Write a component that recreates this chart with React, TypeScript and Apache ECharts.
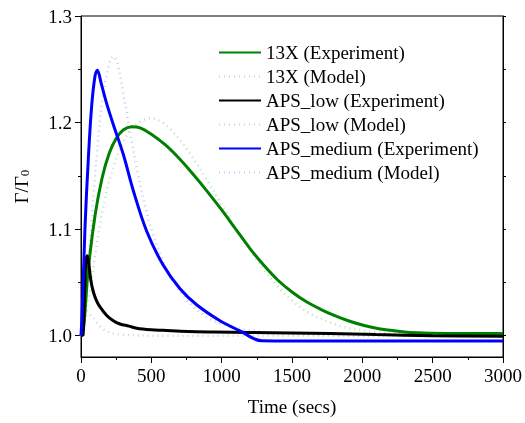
import React, { useEffect, useRef } from "react";
import * as echarts from "echarts";

const seriesNames = [
  "13X (Experiment)",
  "13X (Model)",
  "APS_low (Experiment)",
  "APS_low (Model)",
  "APS_medium (Experiment)",
  "APS_medium (Model)",
];

const t13xExp = [0, 20, 50, 100, 150, 200, 250, 300, 360, 420, 500, 600, 700, 800, 900, 1000, 1100, 1200, 1300, 1400, 1500, 1600, 1700, 1800, 1900, 2000, 2100, 2200, 2300, 2400, 2500, 2700, 3000];
const v13xExp = [1.0, 1.01, 1.06, 1.113, 1.148, 1.171, 1.185, 1.193, 1.196, 1.195, 1.189, 1.179, 1.166, 1.151, 1.135, 1.118, 1.1, 1.082, 1.066, 1.052, 1.041, 1.032, 1.025, 1.019, 1.014, 1.01, 1.007, 1.005, 1.0035, 1.0027, 1.0022, 1.002, 1.002];

const t13xModel = [0, 50, 100, 150, 200, 300, 400, 500, 600, 700, 800, 900, 1000, 1100, 1200, 1300, 1400, 1500, 1600, 1700, 1800, 1900, 2000, 2200, 2500, 3000];
const v13xModel = [1.0, 1.03, 1.075, 1.115, 1.145, 1.182, 1.199, 1.204, 1.198, 1.184, 1.166, 1.145, 1.123, 1.101, 1.081, 1.062, 1.046, 1.033, 1.023, 1.016, 1.011, 1.007, 1.005, 1.002, 1.001, 1.001];

const tLowExp = [0, 15, 25, 35, 45, 55, 70, 88, 110, 135, 183, 230, 277, 340, 396, 500, 585, 760, 940, 1200, 1500, 1770, 2100, 2500, 3000];
const vLowExp = [1.0, 1.001, 1.04, 1.07, 1.075, 1.068, 1.052, 1.041, 1.033, 1.027, 1.019, 1.014, 1.011, 1.009, 1.007, 1.0055, 1.005, 1.004, 1.0035, 1.003, 1.0025, 1.002, 1.001, 1.0, 0.9995];

const tLowModel = [0, 20, 50, 80, 120, 170, 230, 300, 500, 3000];
const vLowModel = [1.0, 1.012, 1.02, 1.018, 1.011, 1.005, 1.002, 1.001, 1.0, 1.0];

const tMedExp = [0, 8, 28, 52, 76, 100, 116, 145, 180, 230, 301, 372, 467, 585, 704, 822, 988, 1130, 1284, 1500, 3000];
const vMedExp = [1.0, 1.02, 1.1, 1.166, 1.216, 1.244, 1.249, 1.236, 1.219, 1.198, 1.17, 1.136, 1.098, 1.066, 1.044, 1.029, 1.014, 1.0045, 0.9952, 0.995, 0.995];

const tMedModel = [0, 30, 60, 100, 150, 200, 230, 260, 300, 350, 400, 450, 500, 600, 700, 800, 900, 1000, 1200, 1500, 2000, 3000];
const vMedModel = [1.0, 1.03, 1.08, 1.15, 1.22, 1.255, 1.262, 1.255, 1.228, 1.19, 1.155, 1.125, 1.1, 1.065, 1.042, 1.027, 1.017, 1.011, 1.005, 1.002, 1.0, 1.0];

const xTickLabels = [0, 500, 1000, 1500, 2000, 2500, 3000];
const yTickLabels = [1.0, 1.1, 1.2, 1.3];
const yMinorTicks = [1.05, 1.15, 1.25];

const FONT = "'Liberation Serif', 'Times New Roman', Times, serif";

function zip(t: number[], v: number[]) {
  return t.map((x, i) => [x, v[i]]);
}

export default function App() {
  const ref = useRef<HTMLDivElement>(null);
  useEffect(() => {
    if (!ref.current) return;
    const chart = echarts.init(ref.current, null, { renderer: "svg" });
    const expLine = (name: string, color: string, t: number[], v: number[]) => ({
      name,
      type: "line",
      data: zip(t, v),
      showSymbol: false,
      symbol: "none",
      smooth: 0.35,
      z: 5,
      lineStyle: { color, width: 3 },
      itemStyle: { color },
    });
    const modelLine = (name: string, color: string, t: number[], v: number[]) => ({
      name,
      type: "line",
      data: zip(t, v),
      showSymbol: false,
      symbol: "none",
      smooth: 0.35,
      z: 2,
      lineStyle: { color, width: 2.5, type: [1, 4] },
      itemStyle: { color },
    });
    chart.setOption({
      animation: false,
      textStyle: { fontFamily: FONT },
      grid: {
        left: 81,
        right: 22,
        top: 16,
        bottom: 66,
        show: true,
        borderColor: "#000",
        borderWidth: 1,
      },
      legend: {
        left: 213,
        top: 38,
        orient: "vertical",
        itemWidth: 42,
        itemHeight: 10,
        itemGap: 5,
        itemStyle: { opacity: 0, borderWidth: 0 },
        textStyle: { fontFamily: FONT, fontSize: 19, color: "#000", lineHeight: 19 },
        data: seriesNames,
      },
      xAxis: {
        type: "value",
        min: 0,
        max: 3000,
        interval: 500,
        name: "Time (secs)",
        nameLocation: "middle",
        nameGap: 40,
        nameTextStyle: { fontFamily: FONT, fontSize: 19, color: "#000" },
        axisLine: { show: true, lineStyle: { color: "#000", width: 1 } },
        axisTick: { show: true, inside: false, length: 6, lineStyle: { color: "#000" } },
        minorTick: { show: true, splitNumber: 2, length: 3, lineStyle: { color: "#000" } },
        axisLabel: {
          fontFamily: FONT,
          fontSize: 19,
          color: "#000",
          margin: 9,
          customValues: xTickLabels,
          formatter: (v: number) => String(v),
        },
        splitLine: { show: false },
      },
      yAxis: [
        {
          type: "value",
          min: 0.98,
          max: 1.3,
          name: "{a|Γ/Γ}{b|0}",
          nameLocation: "middle",
          nameGap: 50,
          nameRotate: 90,
          nameTextStyle: {
            fontFamily: FONT,
            fontSize: 19,
            color: "#000",
            rich: {
              a: { fontFamily: FONT, fontSize: 19, color: "#000", verticalAlign: "bottom", lineHeight: 24 },
              b: { fontFamily: FONT, fontSize: 13, color: "#000", verticalAlign: "bottom", lineHeight: 18 },
            },
          },
          axisLine: { show: true, lineStyle: { color: "#000", width: 1 } },
          axisTick: { show: true, inside: false, length: 6, customValues: yTickLabels, lineStyle: { color: "#000" } },
          axisLabel: {
            fontFamily: FONT,
            fontSize: 19,
            color: "#000",
            margin: 9,
            customValues: yTickLabels,
            formatter: (v: number) => v.toFixed(1),
          },
          splitLine: { show: false },
        },
        {
          type: "value",
          min: 0.98,
          max: 1.3,
          position: "left",
          axisLine: { show: false },
          axisTick: { show: true, inside: false, length: 3, customValues: yMinorTicks, lineStyle: { color: "#000" } },
          axisLabel: { show: false },
          splitLine: { show: false },
        },
        {
          type: "value",
          min: 0.98,
          max: 1.3,
          position: "right",
          axisLine: { show: true, lineStyle: { color: "#000", width: 1 } },
          axisTick: {
            show: true,
            inside: false,
            length: 3,
            customValues: [...yTickLabels, ...yMinorTicks],
            lineStyle: { color: "#000" },
          },
          axisLabel: { show: false },
          splitLine: { show: false },
        },
      ],
      series: [
        expLine(seriesNames[0], "#008000", t13xExp, v13xExp),
        modelLine(seriesNames[1], "#b9e2b9", t13xModel, v13xModel),
        expLine(seriesNames[2], "#000000", tLowExp, vLowExp),
        modelLine(seriesNames[3], "#d2d2d2", tLowModel, vLowModel),
        expLine(seriesNames[4], "#0000ff", tMedExp, vMedExp),
        modelLine(seriesNames[5], "#c8c8f6", tMedModel, vMedModel),
      ],
    });
    return () => chart.dispose();
  }, []);
  return (
    <div
      ref={ref}
      style={{ position: "fixed", left: 0, top: 0, width: 525, height: 423 }}
    />
  );
}
